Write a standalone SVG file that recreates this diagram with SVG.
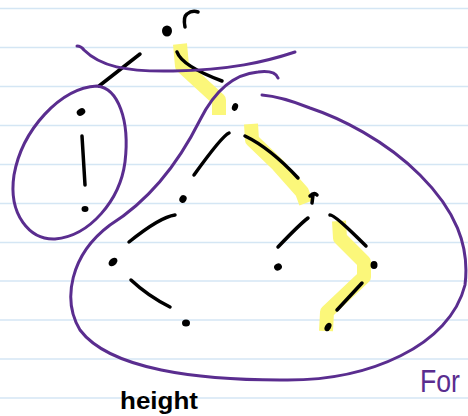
<svg xmlns="http://www.w3.org/2000/svg" width="468" height="416" viewBox="0 0 468 416">
<style>
.rule{stroke:#d4e6f4;stroke-width:1.5}
.hl{fill:none;stroke:#fbf77a;stroke-width:14;stroke-linecap:butt;stroke-linejoin:round}
.edge{fill:none;stroke:#000;stroke-width:3.5;stroke-linecap:round}
.dot{fill:#000}
.loop{fill:none;stroke:#5a2d8f;stroke-width:3;stroke-linecap:round}
.txt{font-family:"Liberation Sans",sans-serif}
</style>
<rect width="468" height="416" fill="#fff"/>
<g id="rules">
<line class="rule" x1="0" y1="8.5" x2="468" y2="8.5"/>
<line class="rule" x1="0" y1="47.5" x2="468" y2="47.5"/>
<line class="rule" x1="0" y1="86.5" x2="468" y2="86.5"/>
<line class="rule" x1="0" y1="125.5" x2="468" y2="125.5"/>
<line class="rule" x1="0" y1="164.5" x2="468" y2="164.5"/>
<line class="rule" x1="0" y1="203.5" x2="468" y2="203.5"/>
<line class="rule" x1="0" y1="242.5" x2="468" y2="242.5"/>
<line class="rule" x1="0" y1="281" x2="468" y2="281"/>
<line class="rule" x1="0" y1="320" x2="468" y2="320"/>
<line class="rule" x1="0" y1="359" x2="468" y2="359"/>
<line class="rule" x1="0" y1="398" x2="468" y2="398"/>
</g>
<g id="highlights">
<path class="hl" d="M180 44 L182 66 L219 100 L219 115"/>
<path class="hl" d="M251 124 L252 140 L278 165 L302 192 L306 203"/>
<path class="hl" d="M339 221 L340 238 L364 262 L364 277 L327 312 L326 331"/>
</g>
<g id="connectors">
<path class="edge" d="M140 54 L99 86"/>
<path class="edge" d="M177 52 Q182 66 222 81"/>
<path class="edge" d="M82 136 L85 185"/>
<path class="edge" d="M229 133 Q222 136 194 175"/>
<path class="edge" d="M245 136 Q270 148 298 178"/>
<path class="edge" d="M175 215 Q160 217 129 242"/>
<path class="edge" d="M131 280 Q148 296 170 307"/>
<path class="edge" d="M308 218 Q300 224 278 247"/>
<path class="edge" d="M330 215 Q334 214 366 246"/>
<path class="edge" d="M362 283 L337 310"/>
</g>
<g id="n-root"><ellipse class="dot" cx="167" cy="31" rx="5" ry="5.5"/><path d="M185 27 Q183 17 187 14 Q192 10 198 12" fill="none" stroke="#000" stroke-width="3.5" stroke-linecap="round"/></g>
<g id="n-left"><ellipse class="dot" cx="81" cy="112" rx="4.5" ry="3.5" transform="rotate(-30 81 112)"/></g>
<g id="n-leftleft"><ellipse class="dot" cx="85" cy="209" rx="3.5" ry="3"/></g>
<g id="n-right"><ellipse class="dot" cx="235" cy="107" rx="3" ry="4" transform="rotate(20 235 107)"/></g>
<g id="n-rl"><ellipse class="dot" cx="183" cy="199" rx="3.5" ry="4" transform="rotate(30 183 199)"/></g>
<g id="n-rll"><ellipse class="dot" cx="113" cy="262" rx="5" ry="3.5" transform="rotate(-40 113 262)"/></g>
<g id="n-rllr"><ellipse class="dot" cx="186" cy="323" rx="4" ry="3.5"/></g>
<g id="n-rr"><path d="M310 196 Q314 192 317 195 M313 195 L312 203" fill="none" stroke="#000" stroke-width="3.5" stroke-linecap="round"/></g>
<g id="n-rrl"><ellipse class="dot" cx="278" cy="267" rx="4" ry="3.5" transform="rotate(-30 278 267)"/></g>
<g id="n-rrr"><ellipse class="dot" cx="374" cy="265" rx="3.5" ry="4"/></g>
<g id="n-rrrl"><ellipse class="dot" cx="328" cy="327" rx="3" ry="4.5" transform="rotate(30 328 327)"/></g>
<g id="loops">
<path class="loop" d="M77 46 Q81 46 84 50 C100 66 125 72 173 71 C230 70 265 62 295 52"/>
<path class="loop" d="M97 86 C60 88 22 130 14 175 C8 215 30 240 55 239 C90 236 120 200 125 162 C130 120 118 88 97 86 Z"/>
<path class="loop" d="M278 78 Q275 70 258 72 C235 74 215 90 200 120 C180 160 150 200 110 225 C70 255 62 300 80 330 C110 370 200 380 280 380 C370 382 450 345 465 285 C470 245 455 210 420 175 C385 140 340 118 310 108 C290 100 275 96 262 95"/>
</g>
<text class="txt" x="120" y="409" font-size="24" font-weight="bold" fill="#000" textLength="78" lengthAdjust="spacingAndGlyphs">height</text>
<text class="txt" x="420" y="392" font-size="32" fill="#5a2d8f" textLength="40" lengthAdjust="spacingAndGlyphs">For</text>
</svg>
